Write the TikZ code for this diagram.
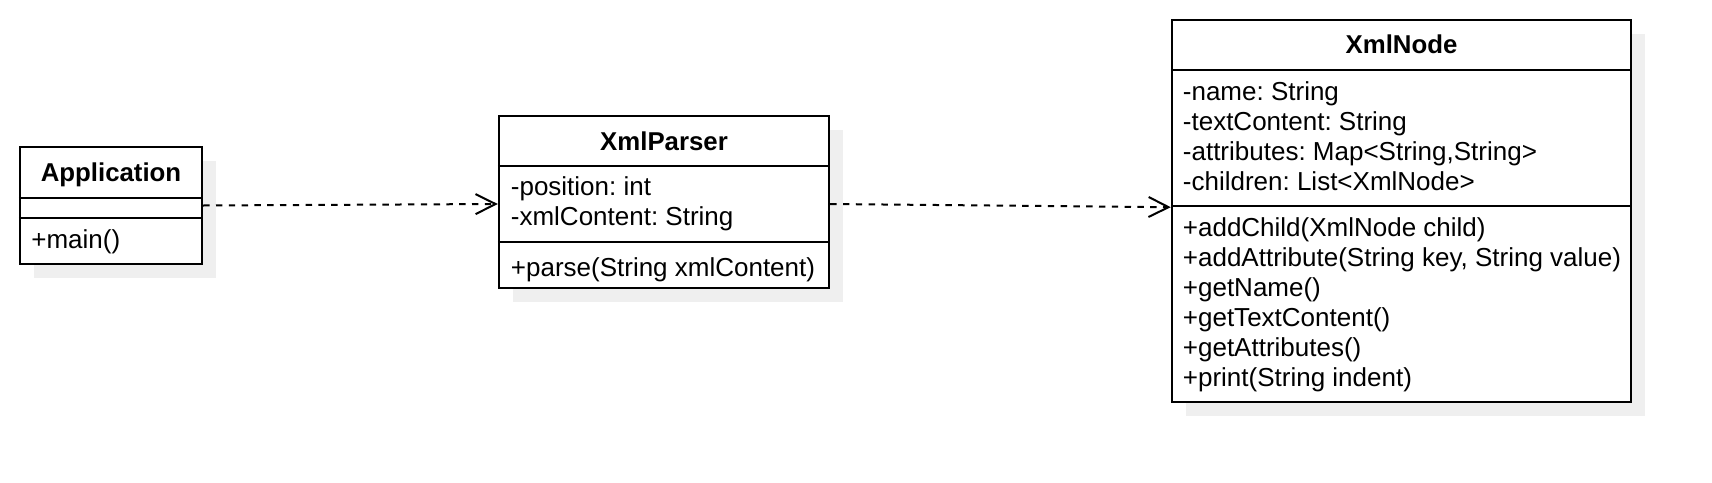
\documentclass[tikz,border=0pt]{standalone}
\usepackage{fontspec}
\setmainfont{Liberation Sans}
\frenchspacing
\usetikzlibrary{arrows.meta,fit}
\definecolor{shadowgray}{HTML}{EFEFEF}
\tikzset{
  classbox/.style={draw=black, line width=1.2pt, inner sep=0pt, fill=white},
  shadowbox/.style={fill=shadowgray, draw=none},
  sepline/.style={draw=black, line width=1.2pt},
  member/.style={anchor=base west, inner sep=0pt, font=\fontsize{13}{15}\selectfont\frenchspacing},
  header/.style={anchor=base, inner sep=0pt, font=\fontsize{12.9}{15}\selectfont\bfseries},
  depend/.style={line width=1pt, dash pattern=on 3.2pt off 3.2pt,
    -{Straight Barb[length=10pt,width=10pt,line width=1pt]}}
}
\begin{document}
\begin{tikzpicture}[x=0.5pt,y=-0.5pt]
\useasboundingbox (0,0) rectangle (1712,482);
% shadows
\fill[shadowbox] (34,161) rectangle (216,278);
\fill[shadowbox] (513,130) rectangle (843,302);
\fill[shadowbox] (1186,34) rectangle (1645,416);
% Application
\node[classbox, fit={(20,147) (202,264)}] (app) {};
\draw[sepline] (app.west |- 0,198) -- (app.east |- 0,198);
\draw[sepline] (app.west |- 0,218) -- (app.east |- 0,218);
\node[header] (appT) at (111,181.5) {Application};
\node[member] (appM1) at (31,248) {+main()};
% XmlParser
\node[classbox, fit={(499,116) (829,288)}] (parser) {};
\draw[sepline] (parser.west |- 0,166) -- (parser.east |- 0,166);
\draw[sepline] (parser.west |- 0,242) -- (parser.east |- 0,242);
\node[header] (parserT) at (664,150) {XmlParser};
\node[member] (parserA1) at (510.5,195.5) {-position: int};
\node[member] (parserA2) at (510.5,225.5) {-xmlContent: String};
\node[member] (parserM1) at (510.5,276) {+parse(String xmlContent)};
% XmlNode
\node[classbox, fit={(1172,20) (1631,402)}] (xnode) {};
\draw[sepline] (xnode.west |- 0,70) -- (xnode.east |- 0,70);
\draw[sepline] (xnode.west |- 0,206) -- (xnode.east |- 0,206);
\node[header] (xnodeT) at (1401.5,53.5) {XmlNode};
\node[member] (xnodeA1) at (1182.5,100) {-name: String};
\node[member] (xnodeA2) at (1182.5,130) {-textContent: String};
\node[member] (xnodeA3) at (1182.5,160) {-attributes: Map<String,String>};
\node[member] (xnodeA4) at (1182.5,190) {-children: List<XmlNode>};
\node[member] (xnodeM1) at (1182.5,236.5) {+addChild(XmlNode child)};
\node[member] (xnodeM2) at (1182.5,266.5) {+addAttribute(String key, String value)};
\node[member] (xnodeM3) at (1182.5,296.5) {+getName()};
\node[member] (xnodeM4) at (1182.5,326.5) {+getTextContent()};
\node[member] (xnodeM5) at (1182.5,356.5) {+getAttributes()};
\node[member] (xnodeM6) at (1182.5,386.5) {+print(String indent)};
% dependencies
\draw[depend] (app.east) -- ([yshift=-1pt]parser.west);
\draw[depend] ([yshift=-1pt]parser.east) -- ([yshift=1.9pt]xnode.west);
\end{tikzpicture}
\end{document}
